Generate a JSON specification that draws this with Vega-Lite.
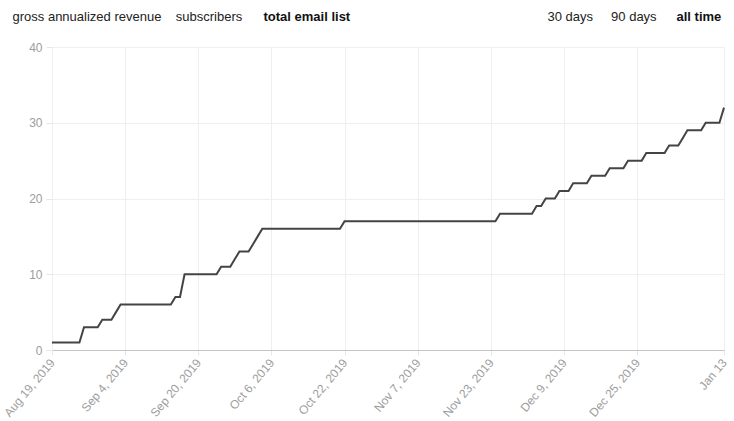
{
  "$schema": "https://vega.github.io/schema/vega-lite/v6.json",
  "width": 672,
  "height": 303,
  "autosize": {"type": "none"},
  "padding": {"left": 52, "top": 47, "right": 10, "bottom": 71},
  "background": "white",
  "config": {
    "view": {"stroke": null},
    "font": "Liberation Sans",
    "axis": {"labelFont": "Liberation Sans", "titleFont": "Liberation Sans"}
  },
  "data": {
    "values": [
      {"date": "2019-08-19", "count": 1},
      {"date": "2019-08-25", "count": 1},
      {"date": "2019-08-26", "count": 3},
      {"date": "2019-08-29", "count": 3},
      {"date": "2019-08-30", "count": 4},
      {"date": "2019-09-01", "count": 4},
      {"date": "2019-09-02", "count": 5},
      {"date": "2019-09-03", "count": 6},
      {"date": "2019-09-14", "count": 6},
      {"date": "2019-09-15", "count": 7},
      {"date": "2019-09-16", "count": 7},
      {"date": "2019-09-17", "count": 10},
      {"date": "2019-09-24", "count": 10},
      {"date": "2019-09-25", "count": 11},
      {"date": "2019-09-27", "count": 11},
      {"date": "2019-09-28", "count": 12},
      {"date": "2019-09-29", "count": 13},
      {"date": "2019-10-01", "count": 13},
      {"date": "2019-10-02", "count": 14},
      {"date": "2019-10-03", "count": 15},
      {"date": "2019-10-04", "count": 16},
      {"date": "2019-10-21", "count": 16},
      {"date": "2019-10-22", "count": 17},
      {"date": "2019-11-24", "count": 17},
      {"date": "2019-11-25", "count": 18},
      {"date": "2019-12-02", "count": 18},
      {"date": "2019-12-03", "count": 19},
      {"date": "2019-12-04", "count": 19},
      {"date": "2019-12-05", "count": 20},
      {"date": "2019-12-07", "count": 20},
      {"date": "2019-12-08", "count": 21},
      {"date": "2019-12-10", "count": 21},
      {"date": "2019-12-11", "count": 22},
      {"date": "2019-12-14", "count": 22},
      {"date": "2019-12-15", "count": 23},
      {"date": "2019-12-18", "count": 23},
      {"date": "2019-12-19", "count": 24},
      {"date": "2019-12-22", "count": 24},
      {"date": "2019-12-23", "count": 25},
      {"date": "2019-12-26", "count": 25},
      {"date": "2019-12-27", "count": 26},
      {"date": "2019-12-31", "count": 26},
      {"date": "2020-01-01", "count": 27},
      {"date": "2020-01-03", "count": 27},
      {"date": "2020-01-04", "count": 28},
      {"date": "2020-01-05", "count": 29},
      {"date": "2020-01-08", "count": 29},
      {"date": "2020-01-09", "count": 30},
      {"date": "2020-01-12", "count": 30},
      {"date": "2020-01-13", "count": 32}
    ]
  },
  "layer": [
    {
      "mark": {"type": "line", "color": "#444444", "strokeWidth": 2, "interpolate": "linear"},
      "encoding": {
        "x": {
          "field": "date",
          "type": "temporal",
          "scale": {
            "type": "utc",
            "domain": [
              {"year": 2019, "month": 8, "date": 19, "utc": true},
              {"year": 2020, "month": 1, "date": 13, "utc": true}
            ]
          },
          "axis": {
            "values": [
              {"year": 2019, "month": 8, "date": 19, "utc": true},
              {"year": 2019, "month": 9, "date": 4, "utc": true},
              {"year": 2019, "month": 9, "date": 20, "utc": true},
              {"year": 2019, "month": 10, "date": 6, "utc": true},
              {"year": 2019, "month": 10, "date": 22, "utc": true},
              {"year": 2019, "month": 11, "date": 7, "utc": true},
              {"year": 2019, "month": 11, "date": 23, "utc": true},
              {"year": 2019, "month": 12, "date": 9, "utc": true},
              {"year": 2019, "month": 12, "date": 25, "utc": true},
              {"year": 2020, "month": 1, "date": 13, "utc": true}
            ],
            "labelExpr": "utcFormat(datum.value, '%Y') == '2020' ? utcFormat(datum.value, '%b %-d') : utcFormat(datum.value, '%b %-d, %Y')",
            "labelAngle": -50,
            "labelAlign": "right",
            "labelBaseline": "middle",
            "labelPadding": 5,
            "labelFontSize": 12,
            "labelColor": "#9d9d9d",
            "labelOverlap": false,
            "labelFlush": false,
            "grid": true,
            "gridColor": "#efefef",
            "ticks": true,
            "tickSize": 5,
            "tickColor": "#e6e6e6",
            "domain": true,
            "domainColor": "#c4c4c4",
            "title": "gross annualized revenue\u00a0\u00a0\u00a0\u00a0subscribers",
            "titleFontSize": 13,
            "titleFontWeight": "normal",
            "titleColor": "#222222",
            "titleAngle": 0,
            "titleAlign": "left",
            "titleBaseline": "middle",
            "titleX": -40,
            "titleY": -334
          }
        },
        "y": {
          "field": "count",
          "type": "quantitative",
          "scale": {"domain": [0, 40], "nice": false},
          "axis": {
            "values": [0, 10, 20, 30, 40],
            "labelFontSize": 12,
            "labelColor": "#9d9d9d",
            "labelPadding": 4,
            "grid": true,
            "gridColor": "#efefef",
            "ticks": true,
            "tickSize": 6,
            "tickColor": "#e6e6e6",
            "domain": true,
            "domainColor": "#efefef",
            "title": "all time",
            "titleFontSize": 13,
            "titleFontWeight": "bold",
            "titleColor": "#111111",
            "titleAngle": 0,
            "titleAlign": "left",
            "titleBaseline": "middle",
            "titleX": 624,
            "titleY": -31
          }
        }
      }
    },
    {
      "mark": {"type": "line", "opacity": 0},
      "encoding": {
        "x": {
          "field": "date",
          "type": "temporal",
          "axis": {
            "orient": "top",
            "labels": false,
            "ticks": false,
            "domain": false,
            "grid": false,
            "title": "total email list",
            "titleFontSize": 13,
            "titleFontWeight": "bold",
            "titleColor": "#111111",
            "titleAlign": "left",
            "titleBaseline": "middle",
            "titleX": 211,
            "titleY": -31
          }
        },
        "y": {
          "field": "count",
          "type": "quantitative",
          "axis": {
            "orient": "right",
            "labels": false,
            "ticks": false,
            "domain": false,
            "grid": false,
            "title": "30 days\u00a0\u00a0\u00a0\u00a0\u00a090 days",
            "titleFontSize": 13,
            "titleFontWeight": "normal",
            "titleColor": "#222222",
            "titleAngle": 0,
            "titleAlign": "left",
            "titleBaseline": "middle",
            "titleX": -177,
            "titleY": -31
          }
        }
      }
    }
  ],
  "resolve": {"axis": {"x": "independent", "y": "independent"}}
}
